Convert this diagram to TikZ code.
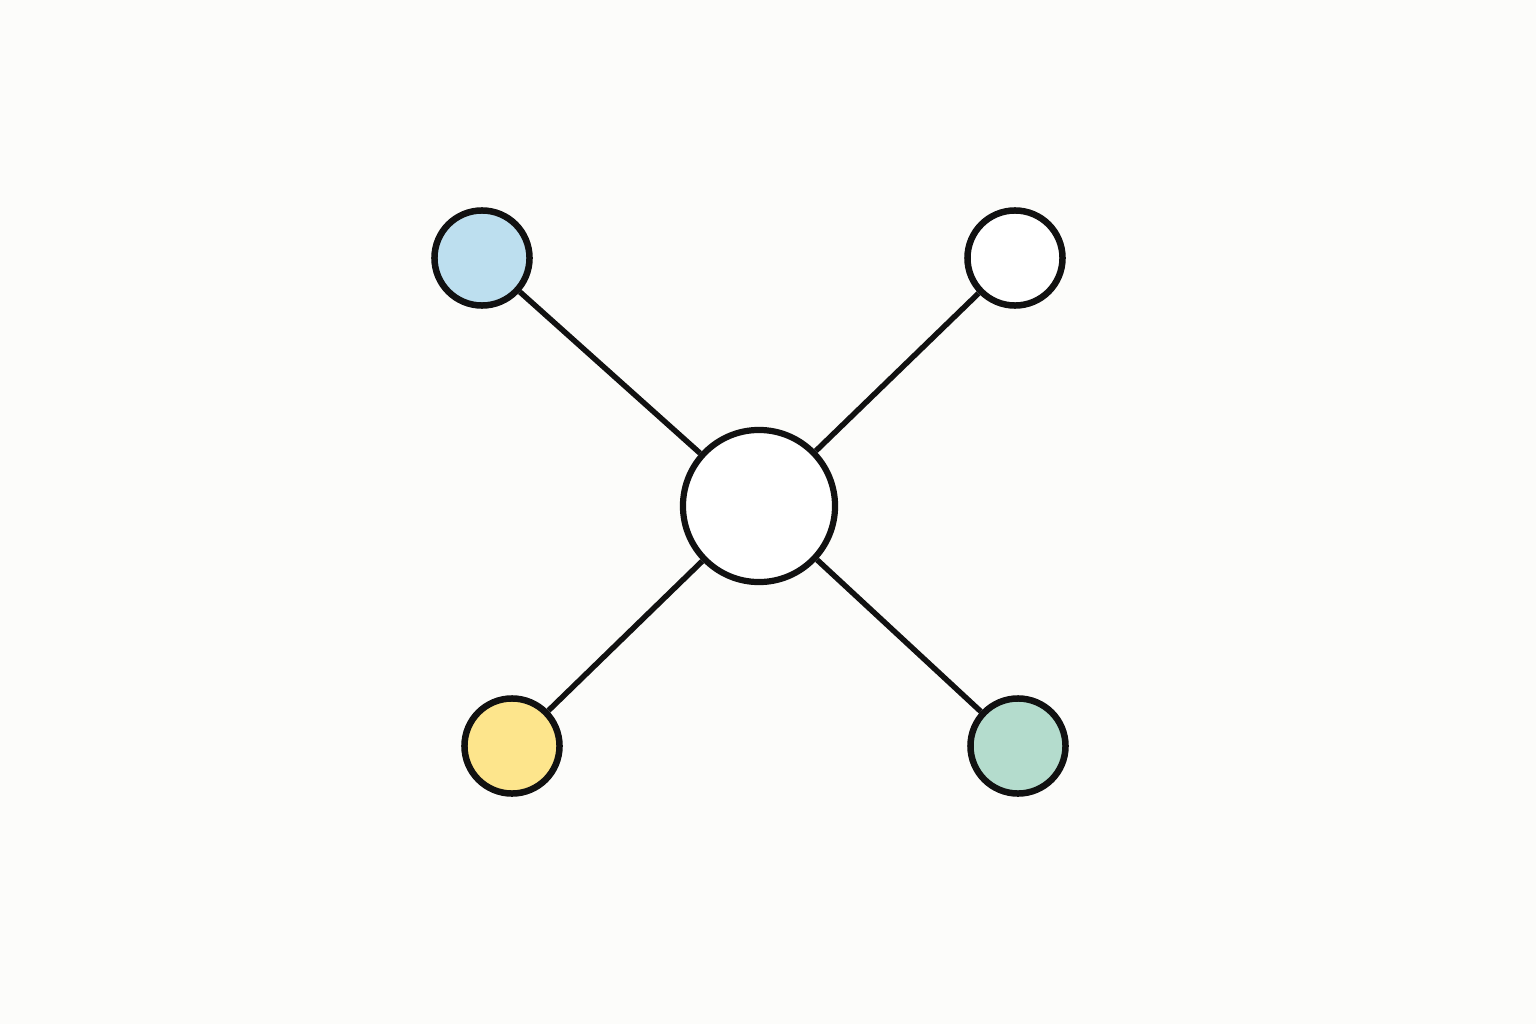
\documentclass[tikz,border=0pt]{standalone}
\definecolor{bg}{HTML}{FCFCFA}
\definecolor{nblue}{HTML}{BDDFEF}
\definecolor{nyellow}{HTML}{FDE58C}
\definecolor{ngreen}{HTML}{B4DCCD}
\definecolor{ink}{HTML}{111111}
\begin{document}
\begin{tikzpicture}[x=0.01cm,y=-0.01cm,
  leaf/.style={circle,draw=ink,line width=0.065cm,inner sep=0pt,minimum size=0.95cm},
  hub/.style={circle,draw=ink,line width=0.062cm,inner sep=0pt,minimum size=1.52cm,fill=white},
  link/.style={draw=ink,line width=0.055cm}]
\fill[bg] (0,0) rectangle (1536,1024);
\useasboundingbox (0,0) rectangle (1536,1024);
\node[hub] (c) at (759,506) {};
\node[leaf,fill=nblue] (tl) at (482,258) {};
\node[leaf,fill=white] (tr) at (1015,258) {};
\node[leaf,fill=nyellow] (bl) at (512,746) {};
\node[leaf,fill=ngreen] (br) at (1018,746) {};
\draw[link] (c) -- (tl);
\draw[link] (c) -- (tr);
\draw[link] (c) -- (bl);
\draw[link] (c) -- (br);
\end{tikzpicture}
\end{document}
